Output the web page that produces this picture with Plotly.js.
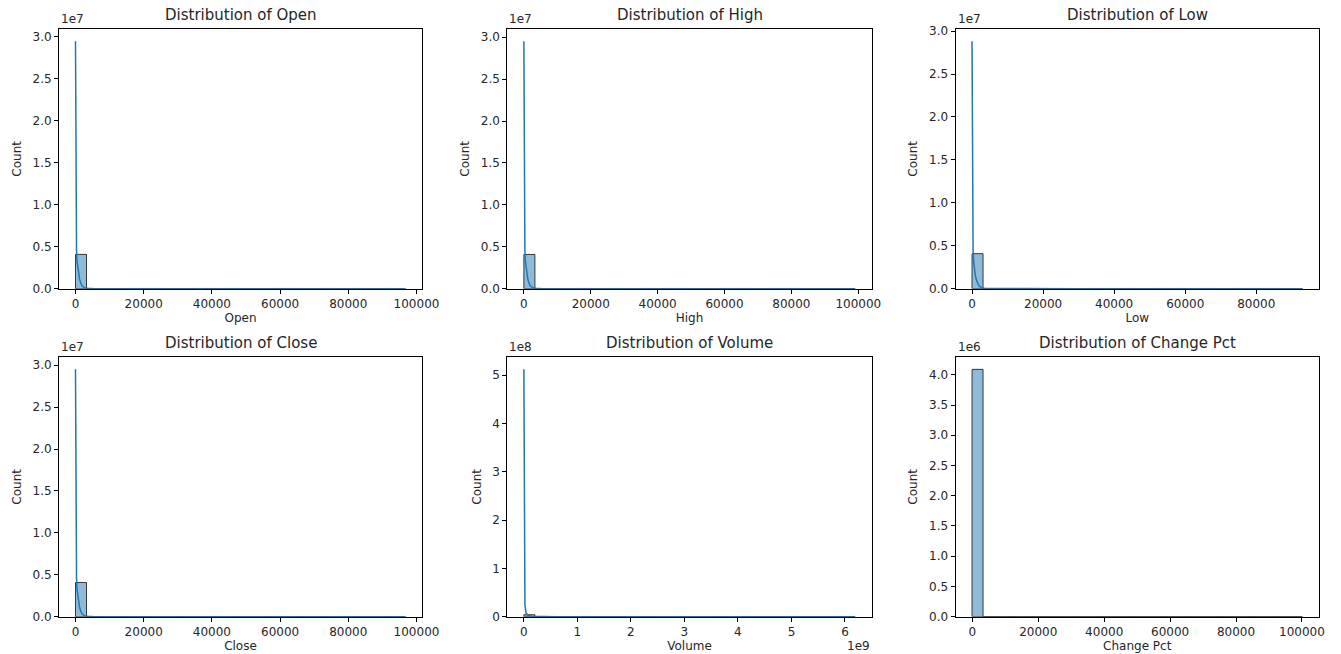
<!DOCTYPE html>
<html>
<head>
<meta charset="utf-8">
<script src="https://cdn.plot.ly/plotly-3.0.1.min.js"></script>
<style>html,body{margin:0;padding:0;background:#fff;}#chart{width:1341px;height:654px;}</style>
</head>
<body>
<div id="chart"></div>
<script>
// ---------- data ----------
const variables = ['Open', 'High', 'Low', 'Close', 'Volume', 'Change Pct'];
const nBins = 30;

// data range [min, max] of each variable
const openRange = [0, 96770];
const highRange = [0, 99050];
const lowRange = [0, 93000];
const closeRange = [0, 96770];
const volumeRange = [0, 6.19e9];
const changeRange = [-100, 100150];

// histogram counts (30 bins each)
const openCounts = [4081000, 5200, 1400, 600, 300, 180, 120, 80, 60, 45, 35, 25, 20, 15, 12, 10, 8, 6, 5, 4, 3, 3, 2, 2, 2, 1, 1, 1, 1, 1];
const highCounts = [4081000, 5300, 1450, 620, 310, 190, 125, 85, 62, 46, 36, 26, 20, 16, 12, 10, 8, 6, 5, 4, 3, 3, 2, 2, 2, 1, 1, 1, 1, 1];
const lowCounts = [4080000, 5000, 1350, 580, 290, 170, 115, 78, 58, 44, 33, 24, 19, 14, 11, 9, 7, 6, 5, 4, 3, 2, 2, 2, 1, 1, 1, 1, 1, 1];
const closeCounts = [4081000, 5200, 1400, 600, 300, 180, 120, 80, 60, 45, 35, 25, 20, 15, 12, 10, 8, 6, 5, 4, 3, 3, 2, 2, 2, 1, 1, 1, 1, 1];
const volumeCounts = [4078000, 9500, 1200, 420, 180, 90, 50, 30, 20, 14, 10, 7, 5, 4, 3, 2, 2, 2, 1, 1, 1, 1, 1, 0, 1, 0, 0, 1, 0, 1];
const changeCounts = [4090000, 40, 8, 3, 2, 1, 1, 1, 0, 0, 1, 0, 0, 0, 0, 0, 0, 0, 0, 0, 0, 0, 0, 0, 0, 0, 0, 0, 0, 1];

// KDE curves (scaled to counts)
const openKdeX = [0, 60, 120, 200, 300, 450, 650, 900, 1200, 1600, 2000, 2600, 3500, 5000, 8000, 15000, 30000, 50000, 70000, 96770];
const openKdeY = [2.94e7, 2.1e7, 1.25e7, 7.2e6, 4.6e6, 3.3e6, 2.5e6, 1.7e6, 1.1e6, 6.0e5, 3.2e5, 1.3e5, 5.0e4, 1.8e4, 6.0e3, 1.8e3, 500, 200, 100, 60];
const highKdeX = [0, 60, 120, 200, 300, 450, 650, 900, 1200, 1600, 2000, 2600, 3500, 5000, 8000, 15000, 30000, 50000, 70000, 99050];
const highKdeY = [2.95e7, 2.1e7, 1.26e7, 7.3e6, 4.7e6, 3.3e6, 2.5e6, 1.7e6, 1.1e6, 6.0e5, 3.2e5, 1.3e5, 5.0e4, 1.8e4, 6.0e3, 1.8e3, 500, 200, 100, 60];
const lowKdeX = [0, 60, 120, 200, 300, 450, 650, 900, 1200, 1600, 2000, 2600, 3500, 5000, 8000, 15000, 30000, 50000, 70000, 93000];
const lowKdeY = [2.88e7, 2.05e7, 1.22e7, 7.0e6, 4.5e6, 3.2e6, 2.4e6, 1.6e6, 1.05e6, 5.8e5, 3.1e5, 1.2e5, 4.8e4, 1.7e4, 5.5e3, 1.7e3, 450, 180, 90, 50];
const closeKdeX = [0, 60, 120, 200, 300, 450, 650, 900, 1200, 1600, 2000, 2600, 3500, 5000, 8000, 15000, 30000, 50000, 70000, 96770];
const closeKdeY = [2.95e7, 2.1e7, 1.25e7, 7.2e6, 4.6e6, 3.3e6, 2.5e6, 1.7e6, 1.1e6, 6.0e5, 3.2e5, 1.3e5, 5.0e4, 1.8e4, 6.0e3, 1.8e3, 500, 200, 100, 60];
const volumeKdeX = [0, 2e6, 5e6, 1e7, 2e7, 4e7, 8e7, 1.5e8, 3e8, 6e8, 1e9, 2e9, 4e9, 6.19e9];
const volumeKdeY = [5.12e8, 3.6e8, 1.9e8, 8.0e7, 2.5e7, 8.0e6, 2.5e6, 9.0e5, 3.0e5, 1.0e5, 4.0e4, 1.0e4, 2.0e3, 500];

// tick labels
const countTickVals = [0, 5e6, 1e7, 1.5e7, 2e7, 2.5e7, 3e7];
const countTickText = ['0.0', '0.5', '1.0', '1.5', '2.0', '2.5', '3.0'];
const volumeCountTickVals = [0, 1e8, 2e8, 3e8, 4e8, 5e8];
const volumeCountTickText = ['0', '1', '2', '3', '4', '5'];
const changeCountTickVals = [0, 5e5, 1e6, 1.5e6, 2e6, 2.5e6, 3e6, 3.5e6, 4e6];
const changeCountTickText = ['0.0', '0.5', '1.0', '1.5', '2.0', '2.5', '3.0', '3.5', '4.0'];
const priceTickVals = [0, 20000, 40000, 60000, 80000, 100000];
const priceTickText = ['0', '20000', '40000', '60000', '80000', '100000'];
const volumeTickVals = [0, 1e9, 2e9, 3e9, 4e9, 5e9, 6e9];
const volumeTickText = ['0', '1', '2', '3', '4', '5', '6'];
const yOffsetLabels = ['1e7', '1e7', '1e7', '1e7', '1e8', '1e6'];
const xOffsetLabels = ['', '', '', '', '1e9', ''];

// ---------- build figure ----------
const ranges = [openRange, highRange, lowRange, closeRange, volumeRange, changeRange];
const counts = [openCounts, highCounts, lowCounts, closeCounts, volumeCounts, changeCounts];
const kdes = [[openKdeX, openKdeY], [highKdeX, highKdeY], [lowKdeX, lowKdeY], [closeKdeX, closeKdeY], [volumeKdeX, volumeKdeY], null];
const yTicks = [[countTickVals, countTickText], [countTickVals, countTickText], [countTickVals, countTickText], [countTickVals, countTickText], [volumeCountTickVals, volumeCountTickText], [changeCountTickVals, changeCountTickText]];
const xTicks = [[priceTickVals, priceTickText], [priceTickVals, priceTickText], [priceTickVals, priceTickText], [priceTickVals, priceTickText], [volumeTickVals, volumeTickText], [priceTickVals, priceTickText]];

const W = 1341, H = 654;
const colPx = [[59, 422], [507.3, 871.7], [955.5, 1319]];
const rowPx = [[29, 288.7], [357, 616.7]];

const FONT = 'DejaVu Sans, Arial, sans-serif';
const TXT = '#262626';
const C0 = '#1f77b4';

const traces = [];
const layout = {
  width: W, height: H,
  margin: {l: 0, r: 0, t: 0, b: 0},
  paper_bgcolor: '#fff', plot_bgcolor: '#fff',
  showlegend: false,
  font: {family: FONT, color: TXT, size: 12},
  annotations: [],
  bargap: 0
};

variables.forEach((name, i) => {
  const r = Math.floor(i / 3), c = i % 3;
  const sfx = i === 0 ? '' : String(i + 1);
  const xa = 'x' + sfx, ya = 'y' + sfx;
  const [lo, hi] = ranges[i];
  const bw = (hi - lo) / nBins;
  const centers = counts[i].map((_, k) => lo + bw * (k + 0.5));
  traces.push({
    type: 'bar', x: centers, y: counts[i], width: bw,
    xaxis: xa, yaxis: ya,
    marker: {color: 'rgba(31,119,180,0.5)', line: {color: 'rgba(30,30,30,0.85)', width: 1}},
    hoverinfo: 'x+y'
  });
  let ymax = Math.max(...counts[i]);
  if (kdes[i]) {
    traces.push({
      type: 'scatter', mode: 'lines', x: kdes[i][0], y: kdes[i][1],
      xaxis: xa, yaxis: ya,
      line: {color: C0, width: 1.5}
    });
    ymax = Math.max(ymax, ...kdes[i][1]);
  }
  const span = hi - lo;
  const xDom = [colPx[c][0] / W, colPx[c][1] / W];
  const yDom = [1 - rowPx[r][1] / H, 1 - rowPx[r][0] / H];
  const axCommon = {
    showline: true, mirror: true, linecolor: '#000', linewidth: 1,
    ticks: 'outside', ticklen: 4, tickwidth: 1, tickcolor: '#000',
    showgrid: false, zeroline: false,
    tickfont: {family: FONT, size: 12, color: TXT},
    tickmode: 'array'
  };
  layout['xaxis' + sfx] = Object.assign({}, axCommon, {
    domain: xDom, anchor: ya,
    range: [lo - 0.05 * span, hi + 0.05 * span],
    tickvals: xTicks[i][0], ticktext: xTicks[i][1],
    title: {text: name, font: {family: FONT, size: 12, color: TXT}, standoff: 3}
  });
  layout['yaxis' + sfx] = Object.assign({}, axCommon, {
    domain: yDom, anchor: xa,
    range: [0, ymax * 1.05],
    tickvals: yTicks[i][0], ticktext: yTicks[i][1],
    title: {text: 'Count', font: {family: FONT, size: 12, color: TXT}, standoff: 8}
  });
  // subplot title
  layout.annotations.push({
    text: 'Distribution of ' + name, xref: 'paper', yref: 'paper',
    x: (xDom[0] + xDom[1]) / 2, y: yDom[1] + 3 / H,
    xanchor: 'center', yanchor: 'bottom', showarrow: false,
    font: {family: FONT, size: 15, color: TXT}
  });
  // y offset label (scientific multiplier)
  layout.annotations.push({
    text: yOffsetLabels[i], xref: 'paper', yref: 'paper',
    x: xDom[0], y: yDom[1] + 1 / H,
    xanchor: 'left', yanchor: 'bottom', showarrow: false,
    font: {family: FONT, size: 12, color: TXT}
  });
  if (xOffsetLabels[i]) {
    layout.annotations.push({
      text: xOffsetLabels[i], xref: 'paper', yref: 'paper',
      x: xDom[1], y: yDom[0] - 20 / H,
      xanchor: 'right', yanchor: 'top', showarrow: false,
      font: {family: FONT, size: 12, color: TXT}
    });
  }
});

Plotly.newPlot('chart', traces, layout, {staticPlot: true, displayModeBar: false});
</script>
</body>
</html>
